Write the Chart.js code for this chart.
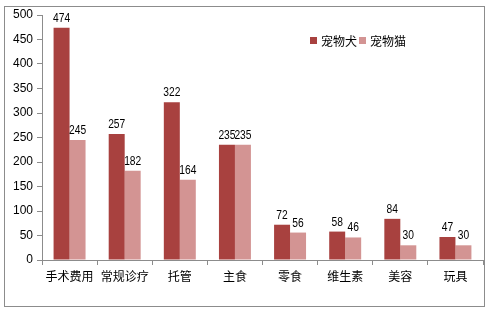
<!DOCTYPE html>
<html><head><meta charset="utf-8">
<script src="https://cdn.jsdelivr.net/npm/chart.js@4"></script>
<style>html,body{margin:0;padding:0;background:#fff}#w{position:relative;width:489px;height:311px}</style>
</head><body><div id="w"><canvas id="c" width="489" height="311"></canvas></div>
<script>
const categories = ['手术费用','常规诊疗','托管','主食','零食','维生素','美容','玩具'];
const seriesNames = ['宠物犬','宠物猫'];
const dogValues = [474,257,322,235,72,58,84,47];
const catValues = [245,182,164,235,56,46,30,30];
const yTicks = [0,50,100,150,200,250,300,350,400,450,500];

const FONT = "'Noto Sans CJK SC','Open Sans',sans-serif";
const NUMFONT = "'Liberation Sans',Arial,sans-serif";
const dogColor = '#A8413F';
const catColor = '#D39493';

const framePlugin = {
  id:'frame',
  beforeDraw(chart){
    const ctx = chart.ctx;
    ctx.save();
    ctx.fillStyle='#fff';ctx.fillRect(0,0,chart.width,chart.height);
    ctx.strokeStyle='#8c8c8c';ctx.lineWidth=1;
    ctx.strokeRect(4.5,6.5,480,300);
    ctx.restore();
  }
};
const labelPlugin = {
  id:'vals',
  afterDatasetsDraw(chart){
    const ctx = chart.ctx;
    const sx = 0.82;
    ctx.save();
    ctx.font = "12.5px "+NUMFONT;
    ctx.fillStyle='#000';
    ctx.textAlign='center';ctx.textBaseline='alphabetic';
    ctx.scale(sx,1);
    chart.data.datasets.forEach((ds,i)=>{
      chart.getDatasetMeta(i).data.forEach((bar,j)=>{
        ctx.fillText(String(ds.data[j]), bar.x/sx, bar.y-6);
      });
    });
    ctx.restore();
  }
};
const legendPlugin = {
  id:'lg',
  afterDraw(chart){
    const ctx = chart.ctx;
    ctx.save();
    ctx.font = "12px "+FONT;
    ctx.textBaseline='middle';ctx.textAlign='left';
    let x = 310; const y = 41;
    chart.data.datasets.forEach(ds=>{
      ctx.fillStyle = ds.backgroundColor;
      ctx.fillRect(x, y-4, 7, 7);
      ctx.fillStyle='#000';
      ctx.fillText(ds.label, x+11, y);
      x += 11 + ctx.measureText(ds.label).width + 2;
    });
    ctx.restore();
  }
};

new Chart(document.getElementById('c'),{
  type:'bar',
  data:{labels:categories,datasets:[
    {label:seriesNames[0],data:dogValues,backgroundColor:dogColor,categoryPercentage:0.58,barPercentage:1},
    {label:seriesNames[1],data:catValues,backgroundColor:catColor,categoryPercentage:0.58,barPercentage:1}
  ]},
  options:{
    responsive:false,animation:false,
    layout:{padding:{top:15,right:6,left:0,bottom:0}},
    plugins:{legend:{display:false},tooltip:{enabled:false}},
    scales:{
      x:{
        afterFit(s){s.height=51;},
        grid:{display:true,drawOnChartArea:false,drawTicks:true,tickLength:5,color:'#8c8c8c',offset:true},
        border:{display:true,color:'#8c8c8c'},
        ticks:{color:'#000',font:{family:FONT,size:12},padding:4,maxRotation:0,autoSkip:false}
      },
      y:{
        min:0,max:500,
        afterFit(s){s.width=42;},
        afterBuildTicks(s){s.ticks=yTicks.map(v=>({value:v}));},
        grid:{display:true,drawOnChartArea:false,drawTicks:true,tickLength:5,color:'#8c8c8c'},
        border:{display:true,color:'#8c8c8c'},
        ticks:{color:'#000',font:{family:NUMFONT,size:12},padding:4}
      }
    }
  },
  plugins:[framePlugin,labelPlugin,legendPlugin]
});
</script></body></html>
